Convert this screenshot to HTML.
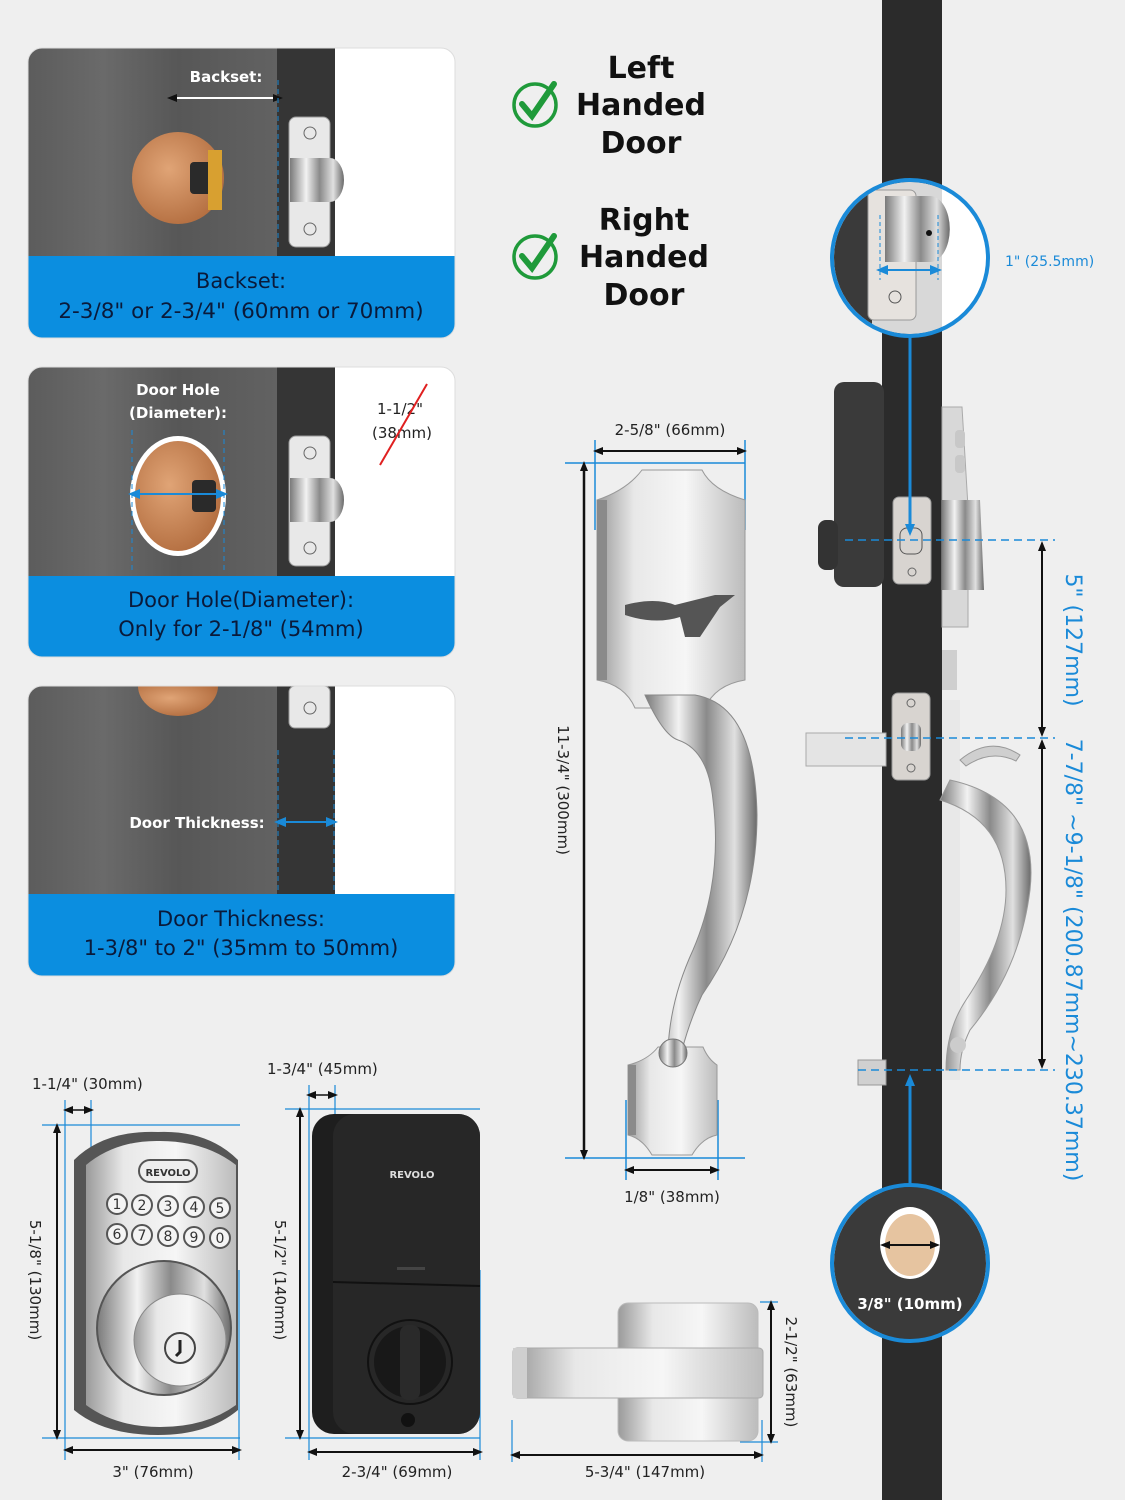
<!DOCTYPE html>
<html><head><meta charset="utf-8"><style>
html,body{margin:0;padding:0;background:#efefef}
svg{display:block}
text{font-family:"DejaVu Sans","Liberation Sans",sans-serif}
</style></head><body>
<svg width="1125" height="1500" viewBox="0 0 1125 1500" xmlns="http://www.w3.org/2000/svg">
<defs>
<linearGradient id="wood" x1="0" x2="1" y1="0" y2="0">
<stop offset="0" stop-color="#5c5c5c"/><stop offset="0.3" stop-color="#6a6a6a"/><stop offset="0.6" stop-color="#575757"/><stop offset="1" stop-color="#626262"/>
</linearGradient>
<linearGradient id="silver" x1="0" x2="1" y1="0" y2="0">
<stop offset="0" stop-color="#9a9a9a"/><stop offset="0.25" stop-color="#e8e8e8"/><stop offset="0.6" stop-color="#f6f6f6"/><stop offset="1" stop-color="#bcbcbc"/>
</linearGradient>
<linearGradient id="chrome" x1="0" x2="1" y1="0" y2="0">
<stop offset="0" stop-color="#7a7a7a"/><stop offset="0.3" stop-color="#f2f2f2"/><stop offset="0.55" stop-color="#8a8a8a"/><stop offset="0.8" stop-color="#e0e0e0"/><stop offset="1" stop-color="#6a6a6a"/>
</linearGradient>
<radialGradient id="copper" cx="0.4" cy="0.4" r="0.7">
<stop offset="0" stop-color="#e0a476"/><stop offset="1" stop-color="#b06a3c"/>
</radialGradient>
<marker id="ab" markerWidth="10" markerHeight="10" refX="5" refY="5" orient="auto-start-reverse" markerUnits="userSpaceOnUse"><path d="M0,1 L10,5 L0,9 z" fill="#111"/></marker>
<marker id="abl" markerWidth="12" markerHeight="12" refX="6" refY="6" orient="auto-start-reverse" markerUnits="userSpaceOnUse"><path d="M0,1 L12,6 L0,11 z" fill="#1a8ad8"/></marker>
<clipPath id="c1"><rect x="28" y="48" width="427" height="290" rx="14"/></clipPath>
<clipPath id="c2"><rect x="28" y="367" width="427" height="290" rx="14"/></clipPath>
<clipPath id="c3"><rect x="28" y="686" width="427" height="290" rx="14"/></clipPath>
<clipPath id="cc1"><circle cx="910" cy="258" r="76"/></clipPath>
<clipPath id="cc2"><circle cx="910" cy="1263" r="76"/></clipPath>
</defs>

<!-- Panel 1 -->
<g clip-path="url(#c1)">
<rect x="28" y="48" width="250" height="210" fill="url(#wood)"/>
<rect x="277" y="48" width="58" height="210" fill="#353535"/>
<rect x="335" y="48" width="120" height="210" fill="#fff"/>
<circle cx="178" cy="178" r="46" fill="url(#copper)"/>
<rect x="190" y="162" width="24" height="32" rx="4" fill="#2a2a2a"/>
<rect x="208" y="150" width="14" height="60" fill="#d8a030"/>
<rect x="289" y="117" width="41" height="130" rx="7" fill="#e8e8e8" stroke="#999"/>
<circle cx="310" cy="133" r="6" fill="none" stroke="#666"/><circle cx="310" cy="229" r="6" fill="none" stroke="#666"/>
<path d="M290 158 h40 a14 22 0 0 1 0 44 h-40 z" fill="url(#chrome)"/>
<line x1="172" y1="98" x2="278" y2="98" stroke="#fff" stroke-width="2" marker-start="url(#ab)" marker-end="url(#ab)"/>
<line x1="278" y1="80" x2="278" y2="250" stroke="#1a8ad8" stroke-dasharray="5,4"/>
<text x="226" y="82" font-size="15" font-weight="bold" fill="#fff" text-anchor="middle">Backset:</text>
<rect x="28" y="256" width="427" height="82" fill="#0b8ee0"/>
<text x="241" y="288" font-size="21" fill="#0a1a3a" text-anchor="middle">Backset:</text>
<text x="241" y="318" font-size="21.5" fill="#0a1a3a" text-anchor="middle">2-3/8" or 2-3/4" (60mm or 70mm)</text>
</g>
<rect x="28" y="48" width="427" height="290" rx="14" fill="none" stroke="#ddd"/>

<!-- Panel 2 -->
<g clip-path="url(#c2)">
<rect x="28" y="367" width="250" height="210" fill="url(#wood)"/>
<rect x="277" y="367" width="58" height="210" fill="#353535"/>
<rect x="335" y="367" width="120" height="210" fill="#fff"/>
<ellipse cx="178" cy="496" rx="48" ry="60" fill="#fff"/>
<ellipse cx="178" cy="496" rx="43" ry="55" fill="url(#copper)"/>
<rect x="192" y="480" width="24" height="32" rx="4" fill="#2a2a2a"/>
<rect x="289" y="436" width="41" height="130" rx="7" fill="#e8e8e8" stroke="#999"/>
<circle cx="310" cy="453" r="6" fill="none" stroke="#666"/><circle cx="310" cy="548" r="6" fill="none" stroke="#666"/>
<path d="M290 478 h40 a14 22 0 0 1 0 44 h-40 z" fill="url(#chrome)"/>
<line x1="132" y1="430" x2="132" y2="570" stroke="#1a8ad8" stroke-dasharray="5,4"/>
<line x1="224" y1="430" x2="224" y2="570" stroke="#1a8ad8" stroke-dasharray="5,4"/>
<line x1="134" y1="494" x2="222" y2="494" stroke="#1a8ad8" stroke-width="2" marker-start="url(#abl)" marker-end="url(#abl)"/>
<text x="178" y="395" font-size="15" font-weight="bold" fill="#fff" text-anchor="middle">Door Hole</text>
<text x="178" y="418" font-size="15" font-weight="bold" fill="#fff" text-anchor="middle">(Diameter):</text>
<text x="400" y="414" font-size="15" fill="#222" text-anchor="middle">1-1/2"</text>
<text x="402" y="438" font-size="15" fill="#222" text-anchor="middle">(38mm)</text>
<line x1="380" y1="465" x2="427" y2="384" stroke="#e02020" stroke-width="2"/>
<rect x="28" y="576" width="427" height="82" fill="#0b8ee0"/>
<text x="241" y="607" font-size="21" fill="#0a1a3a" text-anchor="middle">Door Hole(Diameter):</text>
<text x="241" y="636" font-size="21" fill="#0a1a3a" text-anchor="middle">Only for 2-1/8" (54mm)</text>
</g>
<rect x="28" y="367" width="427" height="290" rx="14" fill="none" stroke="#ddd"/>

<!-- Panel 3 -->
<g clip-path="url(#c3)">
<rect x="28" y="686" width="250" height="210" fill="url(#wood)"/>
<rect x="277" y="686" width="58" height="210" fill="#353535"/>
<rect x="335" y="686" width="120" height="210" fill="#fff"/>
<path d="M138 686 a40 30 0 0 0 80 0 z" fill="url(#copper)"/>
<rect x="289" y="686" width="41" height="42" rx="6" fill="#e8e8e8" stroke="#999"/>
<circle cx="310" cy="708" r="6" fill="none" stroke="#666"/>
<line x1="278" y1="750" x2="278" y2="890" stroke="#1a8ad8" stroke-dasharray="5,4"/>
<line x1="334" y1="750" x2="334" y2="890" stroke="#1a8ad8" stroke-dasharray="5,4"/>
<line x1="280" y1="822" x2="332" y2="822" stroke="#1a8ad8" stroke-width="2" marker-start="url(#abl)" marker-end="url(#abl)"/>
<text x="197" y="828" font-size="15" font-weight="bold" fill="#fff" text-anchor="middle">Door Thickness:</text>
<rect x="28" y="894" width="427" height="82" fill="#0b8ee0"/>
<text x="241" y="926" font-size="21" fill="#0a1a3a" text-anchor="middle">Door Thickness:</text>
<text x="241" y="955" font-size="21" fill="#0a1a3a" text-anchor="middle">1-3/8" to 2" (35mm to 50mm)</text>
</g>
<rect x="28" y="686" width="427" height="290" rx="14" fill="none" stroke="#ddd"/>

<!-- Left/Right handed -->
<g fill="none" stroke="#1f9a3a" stroke-width="3.5">
<circle cx="535" cy="105" r="21"/><circle cx="535" cy="257" r="21"/>
</g>
<path d="M522 104 l10 12 l22 -32" fill="none" stroke="#1f9a3a" stroke-width="6" stroke-linecap="round"/>
<path d="M522 256 l10 12 l22 -32" fill="none" stroke="#1f9a3a" stroke-width="6" stroke-linecap="round"/>
<g font-size="30" font-weight="bold" fill="#111" text-anchor="middle">
<text x="641" y="78">Left</text><text x="641" y="115">Handed</text><text x="641" y="153">Door</text>
<text x="644" y="230">Right</text><text x="644" y="267">Handed</text><text x="644" y="305">Door</text>
</g>

<!-- Door side -->
<rect x="882" y="0" width="60" height="1500" fill="#2b2b2b"/>
<!-- deadbolt -->
<rect x="834" y="382" width="50" height="205" rx="10" fill="#3a3a3a"/>
<rect x="818" y="520" width="20" height="50" rx="8" fill="#333"/>
<path d="M942 407 h20 l6 100 v120 h-26 z" fill="#d8d8d8" stroke="#aaa"/>
<rect x="955" y="430" width="10" height="18" rx="4" fill="#c8c8c8"/><rect x="955" y="455" width="10" height="18" rx="4" fill="#c8c8c8"/>
<path d="M942 500 h38 l4 90 h-42 z" fill="url(#chrome)"/>
<rect x="893" y="497" width="38" height="87" rx="6" fill="#d8d4d0" stroke="#999"/>
<rect x="900" y="528" width="22" height="26" rx="7" fill="none" stroke="#555"/>
<circle cx="912" cy="572" r="4" fill="none" stroke="#666"/>
<!-- latch -->
<rect x="942" y="650" width="15" height="40" fill="#cfcfcf"/>
<rect x="806" y="733" width="80" height="33" fill="#e4e4e4" stroke="#aaa"/>
<rect x="892" y="693" width="38" height="87" rx="6" fill="#d8d4d0" stroke="#999"/>
<rect x="901" y="723" width="20" height="28" rx="7" fill="url(#chrome)"/>
<circle cx="911" cy="703" r="4" fill="none" stroke="#666"/><circle cx="911" cy="768" r="4" fill="none" stroke="#666"/>
<rect x="942" y="700" width="18" height="380" fill="#e8e8e8"/>
<!-- side handle -->
<path d="M960 760 q30 -25 60 -5 l-4 6 q-25 -12 -50 5 z" fill="#cfcfcf" stroke="#999"/>
<path d="M950 780 q90 20 80 110 q-10 80 -60 140 q-10 20 -10 40 h-14 q0 -40 20 -70 q40 -60 40 -110 q0 -70 -66 -90 z" fill="url(#chrome)" stroke="#999"/>
<rect x="858" y="1060" width="28" height="25" fill="#d0d0d0" stroke="#999"/>
<circle cx="958" cy="1045" r="8" fill="#ccc"/>
<!-- dashed lines -->
<g stroke="#1a8ad8" stroke-dasharray="8,5" stroke-width="1.5">
<line x1="845" y1="540" x2="1055" y2="540"/>
<line x1="845" y1="738" x2="1055" y2="738"/>
<line x1="858" y1="1070" x2="1055" y2="1070"/>
</g>
<line x1="1042" y1="546" x2="1042" y2="732" stroke="#111" stroke-width="2" marker-start="url(#ab)" marker-end="url(#ab)"/>
<line x1="1042" y1="744" x2="1042" y2="1064" stroke="#111" stroke-width="2" marker-start="url(#ab)" marker-end="url(#ab)"/>
<text transform="translate(1066,640) rotate(90)" font-size="22" fill="#1a8ad8" text-anchor="middle">5" (127mm)</text>
<text transform="translate(1066,960) rotate(90)" font-size="22" fill="#1a8ad8" text-anchor="middle">7-7/8" ~9-1/8" (200.87mm~230.37mm)</text>
<!-- blue connectors -->
<line x1="910" y1="337" x2="910" y2="530" stroke="#1a8ad8" stroke-width="3" marker-end="url(#abl)"/>
<line x1="910" y1="1186" x2="910" y2="1080" stroke="#1a8ad8" stroke-width="3" marker-end="url(#abl)"/>
<!-- top circle -->
<g clip-path="url(#cc1)">
<rect x="830" y="180" width="160" height="160" fill="#fff"/>
<rect x="830" y="180" width="42" height="160" fill="#3a3a3a"/>
<rect x="872" y="180" width="70" height="160" fill="#d8d8d8"/>
<rect x="868" y="190" width="48" height="130" rx="6" fill="#e6e2de" stroke="#999"/>
<path d="M885 196 h45 a12 20 0 0 1 0 66 h-45 z" fill="url(#chrome)"/>
<circle cx="929" cy="233" r="3" fill="#111"/>
<circle cx="895" cy="297" r="6" fill="none" stroke="#555"/>
<line x1="880" y1="215" x2="880" y2="280" stroke="#1a8ad8" stroke-dasharray="4,3"/>
<line x1="938" y1="215" x2="938" y2="280" stroke="#1a8ad8" stroke-dasharray="4,3"/>
<line x1="882" y1="270" x2="936" y2="270" stroke="#1a8ad8" stroke-width="2" marker-start="url(#abl)" marker-end="url(#abl)"/>
</g>
<circle cx="910" cy="258" r="78" fill="none" stroke="#1a8ad8" stroke-width="4"/>
<text x="1005" y="266" font-size="14" fill="#1a8ad8">1" (25.5mm)</text>
<!-- bottom circle -->
<g clip-path="url(#cc2)">
<rect x="830" y="1185" width="160" height="160" fill="#3a3a3a"/>
<ellipse cx="910" cy="1243" rx="30" ry="36" fill="#fff"/>
<ellipse cx="910" cy="1245" rx="25" ry="31" fill="#e6c4a0"/>
<line x1="885" y1="1245" x2="935" y2="1245" stroke="#111" stroke-width="2" marker-start="url(#ab)" marker-end="url(#ab)"/>
</g>
<circle cx="910" cy="1263" r="78" fill="none" stroke="#1a8ad8" stroke-width="4"/>
<text x="910" y="1309" font-size="15" font-weight="bold" fill="#fff" text-anchor="middle">3/8" (10mm)</text>

<!-- Handleset -->
<g stroke="#1a8ad8" stroke-width="1.5">
<line x1="595" y1="440" x2="595" y2="530"/><line x1="745" y1="440" x2="745" y2="530"/>
<line x1="565" y1="463" x2="745" y2="463"/>
<line x1="565" y1="1158" x2="745" y2="1158"/>
<line x1="626" y1="1100" x2="626" y2="1180"/><line x1="718" y1="1100" x2="718" y2="1180"/>
</g>
<line x1="598" y1="451" x2="742" y2="451" stroke="#111" stroke-width="2" marker-start="url(#ab)" marker-end="url(#ab)"/>
<line x1="584" y1="466" x2="584" y2="1155" stroke="#111" stroke-width="2.5" marker-start="url(#ab)" marker-end="url(#ab)"/>
<line x1="629" y1="1170" x2="715" y2="1170" stroke="#111" stroke-width="2" marker-start="url(#ab)" marker-end="url(#ab)"/>
<text x="670" y="435" font-size="15" fill="#222" text-anchor="middle">2-5/8" (66mm)</text>
<text x="672" y="1202" font-size="15" fill="#222" text-anchor="middle">1/8" (38mm)</text>
<text transform="translate(558,790) rotate(90)" font-size="15" fill="#222" text-anchor="middle">11-3/4" (300mm)</text>
<path d="M597 500 q30 -10 45 -30 h60 q10 20 43 30 v180 q-30 5 -40 28 h-70 q-10 -23 -38 -28 z" fill="url(#silver)" stroke="#999"/>
<rect x="597" y="500" width="10" height="180" fill="#8a8a8a"/>
<path d="M625 605 q30 -8 50 0 l40 -10 h20 l-15 12 l-20 30 h-15 l-5 -20 q-25 8 -55 -2 z" fill="#555"/>
<path d="M645 695 h50 q60 10 62 120 q0 100 -55 180 q-12 25 -20 55 h-14 q2 -50 25 -100 q30 -70 20 -150 q-5 -50 -35 -60 q-15 -5 -33 -45 z" fill="url(#chrome)" stroke="#888"/>
<path d="M628 1065 q20 -5 30 -18 h45 q5 12 14 18 v70 q-15 3 -25 20 h-40 q-10 -17 -24 -20 z" fill="url(#silver)" stroke="#999"/>
<rect x="628" y="1065" width="8" height="70" fill="#8a8a8a"/>
<circle cx="673" cy="1053" r="14" fill="url(#chrome)" stroke="#777"/>

<!-- bottom dims -->
<g stroke="#1a8ad8" stroke-width="1.2">
<line x1="65" y1="1100" x2="65" y2="1460"/><line x1="91" y1="1100" x2="91" y2="1190"/>
<line x1="42" y1="1125" x2="240" y2="1125"/><line x1="42" y1="1438" x2="240" y2="1438"/>
<line x1="239" y1="1270" x2="239" y2="1460"/>
<line x1="309" y1="1085" x2="309" y2="1460"/><line x1="335" y1="1085" x2="335" y2="1115"/>
<line x1="285" y1="1109" x2="480" y2="1109"/><line x1="285" y1="1438" x2="480" y2="1438"/>
<line x1="480" y1="1270" x2="480" y2="1460"/>
<line x1="512" y1="1420" x2="512" y2="1462"/><line x1="762" y1="1420" x2="762" y2="1462"/>
<line x1="760" y1="1302" x2="778" y2="1302"/><line x1="740" y1="1442" x2="778" y2="1442"/>
</g>
<line x1="68" y1="1110" x2="89" y2="1110" stroke="#111" stroke-width="1.5" marker-start="url(#ab)" marker-end="url(#ab)"/>
<line x1="57" y1="1128" x2="57" y2="1435" stroke="#111" stroke-width="2" marker-start="url(#ab)" marker-end="url(#ab)"/>
<line x1="68" y1="1450" x2="237" y2="1450" stroke="#111" stroke-width="2" marker-start="url(#ab)" marker-end="url(#ab)"/>
<line x1="311" y1="1095" x2="333" y2="1095" stroke="#111" stroke-width="1.5" marker-start="url(#ab)" marker-end="url(#ab)"/>
<line x1="300" y1="1112" x2="300" y2="1435" stroke="#111" stroke-width="2" marker-start="url(#ab)" marker-end="url(#ab)"/>
<line x1="312" y1="1452" x2="478" y2="1452" stroke="#111" stroke-width="2" marker-start="url(#ab)" marker-end="url(#ab)"/>
<line x1="515" y1="1455" x2="759" y2="1455" stroke="#111" stroke-width="2" marker-start="url(#ab)" marker-end="url(#ab)"/>
<line x1="771" y1="1305" x2="771" y2="1439" stroke="#111" stroke-width="2" marker-start="url(#ab)" marker-end="url(#ab)"/>
<g font-size="15" fill="#222">
<text x="32" y="1089">1-1/4" (30mm)</text>
<text x="267" y="1074">1-3/4" (45mm)</text>
<text x="153" y="1477" text-anchor="middle">3" (76mm)</text>
<text x="397" y="1477" text-anchor="middle">2-3/4" (69mm)</text>
<text x="645" y="1477" text-anchor="middle">5-3/4" (147mm)</text>
<text transform="translate(30,1280) rotate(90)" text-anchor="middle">5-1/8" (130mm)</text>
<text transform="translate(275,1280) rotate(90)" text-anchor="middle">5-1/2" (140mm)</text>
<text transform="translate(786,1372) rotate(90)" text-anchor="middle">2-1/2" (63mm)</text>
</g>
<!-- silver keypad -->
<path d="M74 1160 q30 -30 84 -28 q50 -2 80 28 v250 q-30 25 -80 25 q-54 0 -84 -25 z" fill="#555"/>
<path d="M86 1165 q30 -25 74 -24 q45 0 76 24 v240 q-30 22 -76 22 q-44 0 -74 -22 z" fill="url(#silver)"/>
<rect x="139" y="1160" width="58" height="22" rx="11" fill="#eee" stroke="#555" stroke-width="2"/>
<text x="168" y="1176" font-size="10" font-weight="bold" fill="#333" text-anchor="middle">REVOLO</text>
<g fill="#f4f4f4" stroke="#555" stroke-width="2">
<circle cx="117" cy="1204" r="10"/><circle cx="142" cy="1205" r="10"/><circle cx="168" cy="1206" r="10"/><circle cx="194" cy="1207" r="10"/><circle cx="220" cy="1208" r="10"/>
<circle cx="117" cy="1234" r="10"/><circle cx="142" cy="1235" r="10"/><circle cx="168" cy="1236" r="10"/><circle cx="194" cy="1237" r="10"/><circle cx="220" cy="1238" r="10"/>
</g>
<g font-size="14" fill="#333" text-anchor="middle">
<text x="117" y="1209">1</text><text x="142" y="1210">2</text><text x="168" y="1211">3</text><text x="194" y="1212">4</text><text x="220" y="1213">5</text>
<text x="117" y="1239">6</text><text x="142" y="1240">7</text><text x="168" y="1241">8</text><text x="194" y="1242">9</text><text x="220" y="1243">0</text>
</g>
<circle cx="164" cy="1328" r="67" fill="url(#chrome)" stroke="#555" stroke-width="2"/>
<circle cx="180" cy="1340" r="46" fill="url(#silver)" stroke="#888"/>
<circle cx="180" cy="1348" r="15" fill="#eee" stroke="#444" stroke-width="2"/>
<path d="M180 1340 v12 l-4 4" stroke="#222" stroke-width="3" fill="none"/>
<!-- black lock -->
<rect x="312" y="1114" width="168" height="320" rx="22" fill="#1e1e1e"/>
<rect x="333" y="1114" width="147" height="320" rx="22" fill="#272727"/>
<line x1="333" y1="1282" x2="480" y2="1286" stroke="#111" stroke-width="2"/>
<text x="412" y="1178" font-size="10" font-weight="bold" fill="#ddd" text-anchor="middle">REVOLO</text>
<rect x="397" y="1267" width="28" height="3" fill="#444"/>
<circle cx="410" cy="1362" r="42" fill="none" stroke="#111" stroke-width="2"/>
<circle cx="410" cy="1362" r="36" fill="#181818"/>
<rect x="400" y="1325" width="20" height="75" rx="8" fill="#2a2a2a"/>
<circle cx="408" cy="1420" r="7" fill="#111"/>
<!-- lever -->
<rect x="618" y="1303" width="140" height="138" rx="10" fill="url(#silver)" stroke="#bbb"/>
<rect x="513" y="1348" width="250" height="50" rx="4" fill="url(#silver)" stroke="#aaa"/>
<rect x="513" y="1348" width="14" height="50" fill="#cfcfcf"/>
</svg>
</body></html>
